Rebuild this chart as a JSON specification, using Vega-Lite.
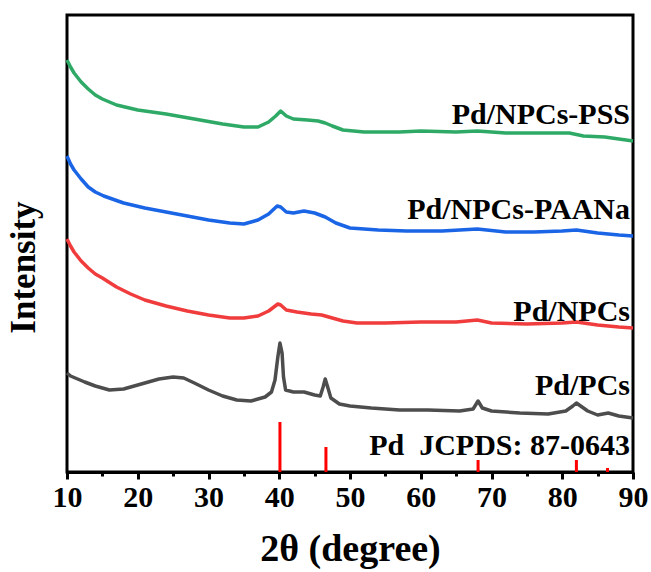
{
  "$schema": "https://vega.github.io/schema/vega-lite/v6.json",
  "width": 566,
  "height": 457,
  "autosize": {"type": "none"},
  "padding": {"left": 67, "top": 15, "right": 18, "bottom": 100},
  "background": "white",
  "config": {
    "view": {"stroke": "black", "strokeWidth": 3},
    "font": "Liberation Serif"
  },
  "datasets": {
    "curves": [
      {"s": "PSS", "x": 10.0, "y": 412}, {"s": "PSS", "x": 10.5, "y": 405}, {"s": "PSS", "x": 11.0, "y": 399}, {"s": "PSS", "x": 12.0, "y": 390}, {"s": "PSS", "x": 13.0, "y": 383}, {"s": "PSS", "x": 14.0, "y": 377}, {"s": "PSS", "x": 15.0, "y": 373}, {"s": "PSS", "x": 17.0, "y": 367}, {"s": "PSS", "x": 20.0, "y": 362}, {"s": "PSS", "x": 24.0, "y": 358}, {"s": "PSS", "x": 28.0, "y": 353}, {"s": "PSS", "x": 32.0, "y": 348}, {"s": "PSS", "x": 35.0, "y": 345}, {"s": "PSS", "x": 37.0, "y": 345}, {"s": "PSS", "x": 38.5, "y": 350}, {"s": "PSS", "x": 39.5, "y": 356}, {"s": "PSS", "x": 40.2, "y": 361}, {"s": "PSS", "x": 41.0, "y": 356}, {"s": "PSS", "x": 42.0, "y": 353}, {"s": "PSS", "x": 44.0, "y": 352}, {"s": "PSS", "x": 45.5, "y": 351}, {"s": "PSS", "x": 46.5, "y": 349}, {"s": "PSS", "x": 47.5, "y": 346}, {"s": "PSS", "x": 49.0, "y": 342}, {"s": "PSS", "x": 52.0, "y": 340}, {"s": "PSS", "x": 57.0, "y": 340}, {"s": "PSS", "x": 60.0, "y": 341}, {"s": "PSS", "x": 65.0, "y": 340}, {"s": "PSS", "x": 68.0, "y": 341}, {"s": "PSS", "x": 72.0, "y": 339}, {"s": "PSS", "x": 77.0, "y": 339}, {"s": "PSS", "x": 81.0, "y": 339}, {"s": "PSS", "x": 83.0, "y": 336}, {"s": "PSS", "x": 86.0, "y": 335}, {"s": "PSS", "x": 90.0, "y": 331},

      {"s": "PAANa", "x": 10.0, "y": 316}, {"s": "PAANa", "x": 10.5, "y": 308}, {"s": "PAANa", "x": 11.0, "y": 302}, {"s": "PAANa", "x": 12.0, "y": 293}, {"s": "PAANa", "x": 13.0, "y": 285}, {"s": "PAANa", "x": 14.0, "y": 280}, {"s": "PAANa", "x": 15.2, "y": 276}, {"s": "PAANa", "x": 18.0, "y": 269}, {"s": "PAANa", "x": 21.0, "y": 264}, {"s": "PAANa", "x": 24.0, "y": 260}, {"s": "PAANa", "x": 27.0, "y": 256}, {"s": "PAANa", "x": 30.0, "y": 252}, {"s": "PAANa", "x": 33.0, "y": 249}, {"s": "PAANa", "x": 35.0, "y": 248}, {"s": "PAANa", "x": 37.0, "y": 252}, {"s": "PAANa", "x": 38.5, "y": 258}, {"s": "PAANa", "x": 39.7, "y": 266}, {"s": "PAANa", "x": 40.2, "y": 265}, {"s": "PAANa", "x": 41.0, "y": 260}, {"s": "PAANa", "x": 42.0, "y": 259}, {"s": "PAANa", "x": 43.5, "y": 261}, {"s": "PAANa", "x": 45.0, "y": 259}, {"s": "PAANa", "x": 46.5, "y": 255}, {"s": "PAANa", "x": 48.0, "y": 249}, {"s": "PAANa", "x": 50.0, "y": 244}, {"s": "PAANa", "x": 54.0, "y": 242}, {"s": "PAANa", "x": 58.0, "y": 241}, {"s": "PAANa", "x": 63.0, "y": 241}, {"s": "PAANa", "x": 68.0, "y": 243}, {"s": "PAANa", "x": 72.0, "y": 240}, {"s": "PAANa", "x": 76.0, "y": 240}, {"s": "PAANa", "x": 80.0, "y": 241}, {"s": "PAANa", "x": 82.0, "y": 242}, {"s": "PAANa", "x": 85.0, "y": 239}, {"s": "PAANa", "x": 88.0, "y": 237}, {"s": "PAANa", "x": 90.0, "y": 236},

      {"s": "NPCs", "x": 10.0, "y": 233}, {"s": "NPCs", "x": 10.5, "y": 226}, {"s": "NPCs", "x": 11.0, "y": 220}, {"s": "NPCs", "x": 12.0, "y": 211}, {"s": "NPCs", "x": 13.0, "y": 204}, {"s": "NPCs", "x": 14.0, "y": 198}, {"s": "NPCs", "x": 15.0, "y": 194}, {"s": "NPCs", "x": 17.0, "y": 185}, {"s": "NPCs", "x": 19.0, "y": 178}, {"s": "NPCs", "x": 21.0, "y": 172}, {"s": "NPCs", "x": 24.0, "y": 166}, {"s": "NPCs", "x": 27.0, "y": 161}, {"s": "NPCs", "x": 30.0, "y": 157}, {"s": "NPCs", "x": 33.0, "y": 154}, {"s": "NPCs", "x": 35.0, "y": 154}, {"s": "NPCs", "x": 37.0, "y": 156}, {"s": "NPCs", "x": 38.5, "y": 161}, {"s": "NPCs", "x": 39.8, "y": 168}, {"s": "NPCs", "x": 40.2, "y": 167}, {"s": "NPCs", "x": 41.0, "y": 162}, {"s": "NPCs", "x": 42.5, "y": 160}, {"s": "NPCs", "x": 44.5, "y": 158}, {"s": "NPCs", "x": 46.0, "y": 157}, {"s": "NPCs", "x": 47.5, "y": 154}, {"s": "NPCs", "x": 49.0, "y": 151}, {"s": "NPCs", "x": 51.0, "y": 149}, {"s": "NPCs", "x": 55.0, "y": 149}, {"s": "NPCs", "x": 60.0, "y": 150}, {"s": "NPCs", "x": 65.0, "y": 150}, {"s": "NPCs", "x": 68.0, "y": 152}, {"s": "NPCs", "x": 70.0, "y": 149}, {"s": "NPCs", "x": 75.0, "y": 148}, {"s": "NPCs", "x": 80.0, "y": 149}, {"s": "NPCs", "x": 82.0, "y": 150}, {"s": "NPCs", "x": 85.0, "y": 147}, {"s": "NPCs", "x": 88.0, "y": 145}, {"s": "NPCs", "x": 90.0, "y": 144},

      {"s": "PCs", "x": 10.0, "y": 99}, {"s": "PCs", "x": 10.5, "y": 96}, {"s": "PCs", "x": 11.5, "y": 93}, {"s": "PCs", "x": 12.5, "y": 90}, {"s": "PCs", "x": 14.0, "y": 86}, {"s": "PCs", "x": 16.0, "y": 82}, {"s": "PCs", "x": 18.0, "y": 83}, {"s": "PCs", "x": 19.5, "y": 86}, {"s": "PCs", "x": 21.0, "y": 89}, {"s": "PCs", "x": 23.0, "y": 93}, {"s": "PCs", "x": 25.0, "y": 95}, {"s": "PCs", "x": 26.5, "y": 94}, {"s": "PCs", "x": 28.0, "y": 89}, {"s": "PCs", "x": 30.0, "y": 82}, {"s": "PCs", "x": 32.0, "y": 76}, {"s": "PCs", "x": 34.0, "y": 72}, {"s": "PCs", "x": 36.0, "y": 71}, {"s": "PCs", "x": 38.0, "y": 75}, {"s": "PCs", "x": 38.9, "y": 80}, {"s": "PCs", "x": 39.4, "y": 92}, {"s": "PCs", "x": 39.8, "y": 115}, {"s": "PCs", "x": 40.1, "y": 129}, {"s": "PCs", "x": 40.4, "y": 119}, {"s": "PCs", "x": 40.6, "y": 95}, {"s": "PCs", "x": 40.9, "y": 82}, {"s": "PCs", "x": 42.0, "y": 80}, {"s": "PCs", "x": 43.5, "y": 80}, {"s": "PCs", "x": 45.0, "y": 77}, {"s": "PCs", "x": 45.8, "y": 76}, {"s": "PCs", "x": 46.2, "y": 85}, {"s": "PCs", "x": 46.5, "y": 93}, {"s": "PCs", "x": 46.8, "y": 86}, {"s": "PCs", "x": 47.3, "y": 74}, {"s": "PCs", "x": 48.5, "y": 68}, {"s": "PCs", "x": 50.0, "y": 66}, {"s": "PCs", "x": 53.0, "y": 64}, {"s": "PCs", "x": 57.0, "y": 62}, {"s": "PCs", "x": 61.0, "y": 62}, {"s": "PCs", "x": 65.5, "y": 61}, {"s": "PCs", "x": 67.4, "y": 63}, {"s": "PCs", "x": 68.1, "y": 71}, {"s": "PCs", "x": 68.7, "y": 64}, {"s": "PCs", "x": 70.0, "y": 61}, {"s": "PCs", "x": 74.0, "y": 59}, {"s": "PCs", "x": 78.0, "y": 58}, {"s": "PCs", "x": 80.5, "y": 61}, {"s": "PCs", "x": 81.5, "y": 66}, {"s": "PCs", "x": 82.0, "y": 69}, {"s": "PCs", "x": 82.6, "y": 66}, {"s": "PCs", "x": 83.6, "y": 61}, {"s": "PCs", "x": 85.0, "y": 57}, {"s": "PCs", "x": 86.5, "y": 59}, {"s": "PCs", "x": 88.0, "y": 56}, {"s": "PCs", "x": 90.0, "y": 54}
    ],
    "sticks": [
      {"x": 40.1, "y": 50}, {"x": 46.6, "y": 25}, {"x": 68.1, "y": 12}, {"x": 82.0, "y": 12}, {"x": 86.4, "y": 4}
    ],
    "labels": [
      {"x": 90, "y": 348, "t": "Pd/NPCs-PSS"},
      {"x": 90, "y": 253, "t": "Pd/NPCs-PAANa"},
      {"x": 90, "y": 151, "t": "Pd/NPCs"},
      {"x": 90, "y": 77, "t": "Pd/PCs"},
      {"x": 90, "y": 17, "t": "Pd\u00a0\u00a0JCPDS: 87-0643"}
    ],
    "minor": [
      {"x": 15}, {"x": 25}, {"x": 35}, {"x": 45}, {"x": 55}, {"x": 65}, {"x": 75}, {"x": 85}
    ]
  },
  "resolve": {"axis": {"x": "independent"}},
  "layer": [
    {
      "data": {"name": "curves"},
      "mark": {"type": "line", "strokeWidth": 3.5, "strokeJoin": "round"},
      "encoding": {
        "x": {
          "field": "x", "type": "quantitative",
          "scale": {"domain": [10, 90], "nice": false, "zero": false},
          "axis": {
            "orient": "bottom",
            "title": "2θ (degree)",
            "values": [10, 20, 30, 40, 50, 60, 70, 80, 90],
            "format": "d",
            "grid": false,
            "domainColor": "black", "domainWidth": 3,
            "tickColor": "black", "tickWidth": 3, "tickSize": 7,
            "labelFont": "Liberation Serif", "labelFontWeight": "bold", "labelFontSize": 30, "labelColor": "black", "labelPadding": 3,
            "labelFlush": false, "labelOverlap": false,
            "titleFont": "Liberation Serif", "titleFontWeight": "bold", "titleFontSize": 38, "titleColor": "black", "titlePadding": 18
          }
        },
        "y": {
          "field": "y", "type": "quantitative",
          "scale": {"domain": [0, 457], "nice": false, "zero": false},
          "axis": {
            "title": "Intensity",
            "labels": false, "ticks": false, "domain": false, "grid": false,
            "titleFont": "Liberation Serif", "titleFontWeight": "bold", "titleFontSize": 35, "titleColor": "black", "titlePadding": 26,
            "titleY": 252
          }
        },
        "color": {
          "field": "s", "type": "nominal",
          "scale": {"domain": ["PSS", "PAANa", "NPCs", "PCs"], "range": ["#2eaa66", "#1a64e6", "#f03c3c", "#4d4d4d"]},
          "legend": null
        }
      }
    },
    {
      "data": {"name": "sticks"},
      "mark": {"type": "rule", "strokeWidth": 3, "color": "#ff0000"},
      "encoding": {
        "x": {"field": "x", "type": "quantitative", "axis": null},
        "y": {"field": "y", "type": "quantitative"},
        "y2": {"datum": 0}
      }
    },
    {
      "data": {"name": "labels"},
      "mark": {"type": "text", "align": "right", "baseline": "alphabetic", "dx": -3, "font": "Liberation Serif", "fontWeight": "bold", "fontSize": 30, "color": "black"},
      "encoding": {
        "x": {"field": "x", "type": "quantitative", "axis": null},
        "y": {"field": "y", "type": "quantitative"},
        "text": {"field": "t", "type": "nominal"}
      }
    },
    {
      "data": {"name": "minor"},
      "mark": {"type": "point", "opacity": 0},
      "encoding": {
        "x": {
          "field": "x", "type": "quantitative",
          "axis": {
            "orient": "bottom", "title": null, "labels": false, "domain": false, "grid": false,
            "values": [15, 25, 35, 45, 55, 65, 75, 85],
            "tickColor": "black", "tickWidth": 3, "tickSize": 4
          }
        },
        "y": {"datum": 0, "type": "quantitative"}
      }
    }
  ]
}
